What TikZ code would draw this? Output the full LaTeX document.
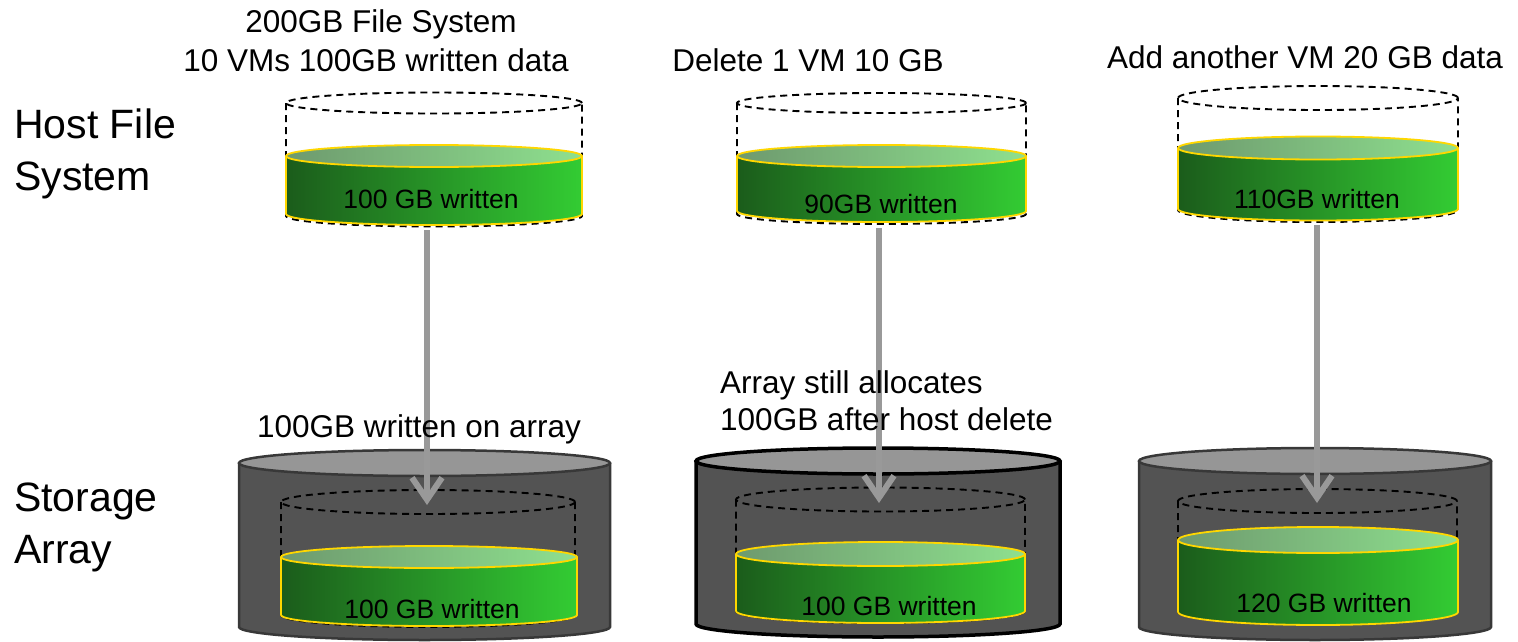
\documentclass[tikz,border=0pt]{standalone}
\usepackage{fontspec}
\setmainfont{Liberation Sans}
\usetikzlibrary{arrows.meta}

\definecolor{bodyL}{HTML}{1B5C1B}
\definecolor{bodyR}{HTML}{33CC33}
\definecolor{lidL}{HTML}{6E9A6E}
\definecolor{lidR}{HTML}{8EE08E}
\definecolor{rim}{HTML}{FFD700}
\definecolor{arrayBody}{HTML}{535353}
\definecolor{arrayLid}{HTML}{969696}
\definecolor{arrayEdge}{HTML}{383838}
\definecolor{flowGray}{HTML}{999999}

\tikzset{
  rimline/.style={draw=rim, line width=1.8pt},
  ghost/.style={draw=black, line width=1.9pt, dash pattern=on 7pt off 5pt},
  arrayline/.style={draw=arrayEdge, line width=2.5pt},
  arraybold/.style={draw=black, line width=3.5pt},
  flow/.style={draw=flowGray, line width=6pt, -{Straight Barb[length=22pt,width=30pt]}},
  caption/.style={inner sep=0pt, anchor=base, font=\fontsize{31.5}{36}\selectfont},
  captionW/.style={caption, anchor=base west},
  side/.style={inner sep=0pt, anchor=base west, font=\fontsize{41}{48}\selectfont},
  fill label/.style={inner sep=0pt, anchor=base, font=\fontsize{26.5}{30}\selectfont},
}

% green data cylinder: centre x, x radius, top y, bottom y, y radius
\newcommand\datacyl[5]{%
  \shade[left color=bodyL, right color=bodyR]
    ({#1-#2},#3) -- ({#1-#2},#4)
    arc[start angle=180, end angle=360, x radius=#2pt, y radius=#5pt]
    -- ({#1+#2},#3)
    arc[start angle=0, end angle=-180, x radius=#2pt, y radius=#5pt] -- cycle;
  \shade[left color=lidL, right color=lidR] (#1,#3) ellipse[x radius=#2pt, y radius=#5pt];
  \draw[rimline] ({#1-#2},#3) -- ({#1-#2},#4)
    arc[start angle=180, end angle=360, x radius=#2pt, y radius=#5pt] -- ({#1+#2},#3);
  \draw[rimline] (#1,#3) ellipse[x radius=#2pt, y radius=#5pt];
}

% dashed capacity outline: centre x, x radius, top y, bottom y, y radius
\newcommand\capacitycyl[5]{%
  \draw[ghost] (#1,#3) ellipse[x radius=#2pt, y radius=#5pt];
  \draw[ghost] ({#1-#2},#3) -- ({#1-#2},#4)
    arc[start angle=180, end angle=360, x radius=#2pt, y radius=#5pt] -- ({#1+#2},#3);
}

% storage array drum: centre x, x radius, top y, bottom y, y radius, edge style
\newcommand\arraycyl[6]{%
  \fill[arrayBody] ({#1-#2},#3) -- ({#1-#2},#4)
    arc[start angle=180, end angle=360, x radius=#2pt, y radius=#5pt]
    -- ({#1+#2},#3) -- cycle;
  \draw[#6] ({#1-#2},#3) -- ({#1-#2},#4)
    arc[start angle=180, end angle=360, x radius=#2pt, y radius=#5pt] -- ({#1+#2},#3);
  \draw[#6, fill=arrayLid] (#1,#3) ellipse[x radius=#2pt, y radius=#5pt];
}

\begin{document}
\begin{tikzpicture}[x=1pt, y=-1pt]
\useasboundingbox (0,0) rectangle (1518,642);

% row labels
\node[side] (hostA) at (14,138) {Host File};
\node[side] (hostB) at (14,190) {System};
\node[side] (storA) at (14,511) {Storage};
\node[side] (storB) at (14,563) {Array};

% ---- column 1 ----
\arraycyl{424.5}{185.5}{463}{627}{13}{arrayline}
\capacitycyl{428}{147}{502}{615}{12}
\datacyl{429}{148}{557}{615}{11}
\node[fill label] (a1txt) at (432,618) {100 GB written};

\capacitycyl{434}{148}{103}{216}{10.5}
\datacyl{434}{148}{156}{214}{11}
\node[fill label] (h1txt) at (431,208) {100 GB written};

\coordinate (h1) at (427,230);
\coordinate (s1) at (427,505);
\draw[flow] (h1) -- (s1);

\node[caption] (c1a) at (381,33) {200GB File System};
\node[caption] (c1b) at (376,72) {10 VMs 100GB written data};
\node[caption] (c1c) at (419,437) {100GB written on array};

% ---- column 2 ----
\arraycyl{878}{182}{461}{624}{13}{arraybold}
\capacitycyl{880.5}{144.5}{499.5}{611}{12}
\datacyl{880.5}{144.5}{554}{611}{12}
\node[fill label] (a2txt) at (889,615) {100 GB written};

\capacitycyl{881.5}{144.5}{103}{214}{10}
\datacyl{881.5}{144.5}{156}{211}{11}
\node[fill label] (h2txt) at (881,213) {90GB written};

\coordinate (h2) at (879,228);
\coordinate (s2) at (879,503);
\draw[flow] (h2) -- (s2);

\node[caption] (c2a) at (808,71) {Delete 1 VM 10 GB};
\node[captionW] (c2b) at (720,393) {Array still allocates};
\node[captionW] (c2c) at (720,430) {100GB after host delete};

% ---- column 3 ----
\arraycyl{1315}{176}{461}{627}{13}{arrayline}
\capacitycyl{1317.5}{139.5}{501}{612}{12}
\datacyl{1318}{140}{540}{612}{13}
\node[fill label] (a3txt) at (1324,612) {120 GB written};

\capacitycyl{1318}{140}{98}{210}{12}
\datacyl{1318}{140}{148}{209}{11.5}
\node[fill label] (h3txt) at (1317,208) {110GB written};

\coordinate (h3) at (1317,225);
\coordinate (s3) at (1317,503);
\draw[flow] (h3) -- (s3);

\node[caption] (c3a) at (1305,69) {Add another VM 20 GB data};
\end{tikzpicture}
\end{document}
